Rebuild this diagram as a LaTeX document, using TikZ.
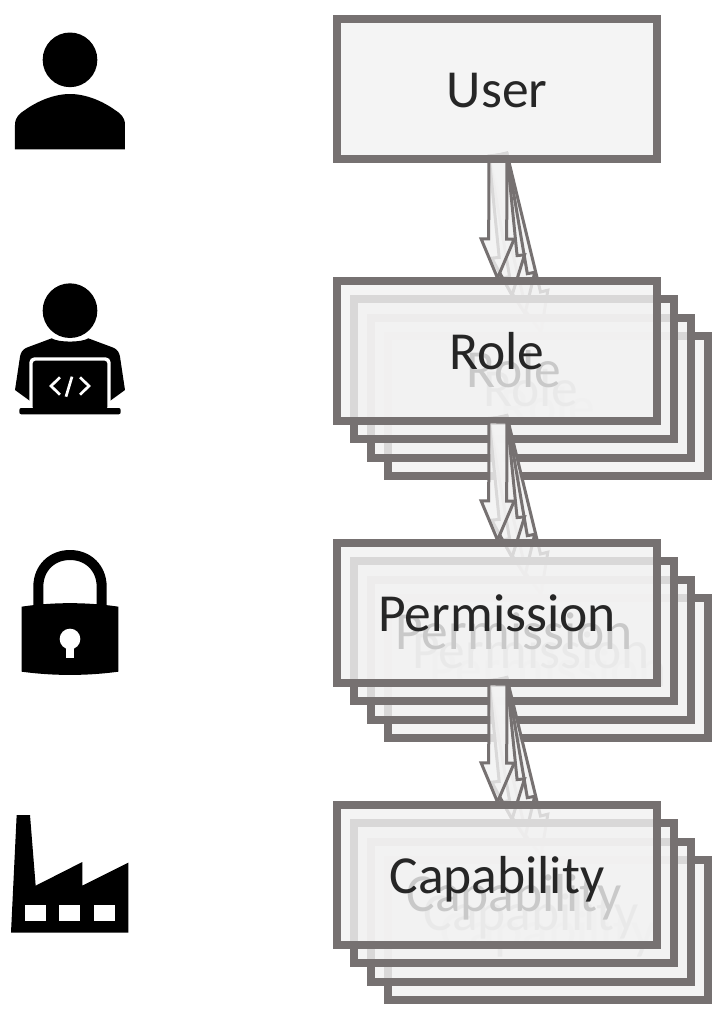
\documentclass[tikz,border=0pt]{standalone}
\usepackage{fontspec}
\setmainfont{Carlito}
\usetikzlibrary{calc}
\definecolor{edgegray}{HTML}{767171}
\definecolor{panelgray}{HTML}{F2F2F2}
\definecolor{inkgray}{HTML}{262626}
\tikzset{
  layerbox/.style={draw=edgegray,line width=8pt,fill=panelgray,fill opacity=.8,draw opacity=1,text opacity=1,
    minimum width=320pt,minimum height=140pt,inner sep=0pt,text=inkgray,text height=37pt,text depth=0pt,
    font=\fontsize{53.5}{54}\selectfont},
  flowarrow/.style={draw=edgegray,line width=3pt,fill=panelgray,fill opacity=.8,draw opacity=1,line join=miter},
  zoomed/.style={x=.33333pt,y=-.33333pt}
}
\newcommand{\blockarrow}[2]{%
  \coordinate (headbase) at ($(#2)!39pt!(#1)$);
  \draw[flowarrow] ($(#1)!9pt!90:(#2)$) -- ($(headbase)!9pt!90:(#2)$) -- ($(headbase)!16.5pt!90:(#2)$)
    -- (#2) -- ($(headbase)!16.5pt!-90:(#2)$) -- ($(headbase)!9pt!-90:(#2)$) -- ($(#1)!9pt!-90:(#2)$) -- cycle;}
% exit points of a stack: rear arrows start higher, behind the front box
\newcommand{\exitpoints}[2]{%
  \coordinate (#1rear) at (498pt,-#2pt-66.5pt);
  \coordinate (#1front) at (498pt,-#2pt-71pt);}
% rear layers of a stack: #1 prefix, #2 centre y, #3 text, #4 source coordinate
\newcommand{\rearlayers}[4]{%
  \node[layerbox] (#14) at (548pt,-#2pt-55pt) {#3};
  \coordinate (#1t4) at ($(#14.north)+(-7pt,0)$);
  \blockarrow{#4}{#1t4}
  \node[layerbox] (#13) at (531pt,-#2pt-36.6pt) {#3};
  \coordinate (#1t3) at ($(#13.north)+(-6pt,0)$);
  \blockarrow{#4}{#1t3}
  \node[layerbox] (#12) at (514pt,-#2pt-18.3pt) {#3};
  \coordinate (#1t2) at ($(#12.north)+(-2pt,0)$);
  \blockarrow{#4}{#1t2}
}
% front layer: arrow first, then the box over its tip
\newcommand{\frontlayer}[4]{%
  \coordinate (#1t1) at (497.5pt,-#2pt+73pt);
  \blockarrow{#4}{#1t1}
  \node[layerbox] (#11) at (497pt,-#2pt) {#3};
}
\begin{document}
\begin{tikzpicture}[x=1pt,y=1pt]
\useasboundingbox (0,0) rectangle (724,-1018);
\fill[white] (0,0) rectangle (724,-1018);
\exitpoints{u}{88.5}
\exitpoints{r}{351}
\exitpoints{p}{613}
\rearlayers{r}{351}{Role}{urear}
\rearlayers{p}{613}{Permission}{rrear}
\frontlayer{r}{351}{Role}{ufront}
\node[layerbox] (user) at (497pt,-88.5pt) {User};
\rearlayers{c}{875}{Capability}{prear}
\frontlayer{p}{613}{Permission}{rfront}
\frontlayer{c}{875}{Capability}{pfront}
% person icon
\begin{scope}[shift={(0pt,-20pt)},zoomed]
\fill (210,119.5) circle[radius=82];
\fill (45,388) -- (45,315) .. controls (45,290) and (60,280) .. (75,270)
  .. controls (110,245) and (160,222) .. (210,222)
  .. controls (260,222) and (310,245) .. (345,270)
  .. controls (360,280) and (375,290) .. (375,315) -- (375,388) -- cycle;
% developer icon
\fill (210,872) circle[radius=82];
\fill (155,955) .. controls (175,968) and (245,968) .. (265,955) -- (340,983)
  .. controls (352,988) and (358,998) .. (360,1010) -- (375,1110) -- (320,1150) -- (100,1150)
  -- (45,1110) -- (60,1010) .. controls (62,998) and (68,988) .. (80,983) -- cycle;
\fill[white,rounded corners=5pt] (88,1012) rectangle (332,1170);
\fill[rounded corners=3pt] (98,1022) rectangle (322,1170);
\fill[rounded corners=2pt] (58,1164) rectangle (362,1183);
\draw[white,line width=2.7pt] (180,1072) -- (153,1098) -- (180,1124);
\draw[white,line width=2.7pt] (240,1072) -- (267,1098) -- (240,1124);
\draw[white,line width=2.7pt] (216,1070) -- (198,1130);
\end{scope}
% padlock icon
\begin{scope}[shift={(0pt,-540pt)},zoomed]
\draw[line width=10pt] (115,205) -- (115,140) .. controls (115,85) and (155,45) .. (210,45)
  .. controls (265,45) and (305,85) .. (305,140) -- (305,205);
\fill (65,200) .. controls (160,186) and (260,186) .. (355,200) -- (355,395)
  .. controls (260,408) and (160,408) .. (65,395) -- cycle;
\fill[white] (210,297) circle[radius=31];
\fill[white] (198,300) rectangle (222,353);
% factory icon
\fill (50,825) -- (90,825) -- (107,1037) -- (247,966) -- (247,1037) -- (385,968)
  -- (385,1178) -- (33,1178) -- cycle;
\fill[white] (75,1095) rectangle (138,1142);
\fill[white] (178,1095) rectangle (241,1142);
\fill[white] (282,1095) rectangle (345,1142);
\end{scope}
\end{tikzpicture}
\end{document}
